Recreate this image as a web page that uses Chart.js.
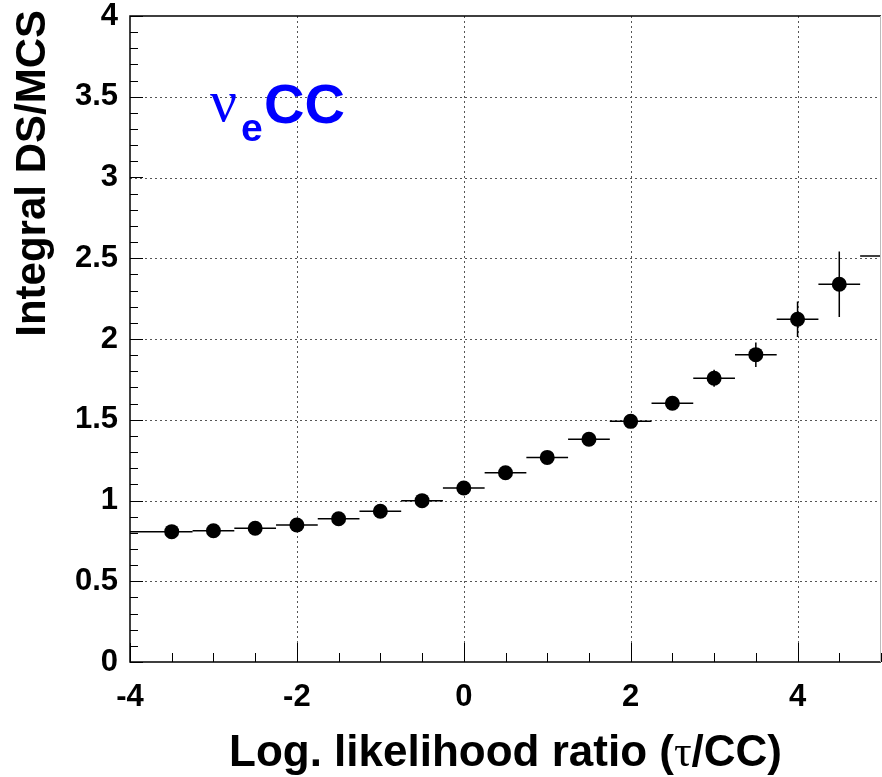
<!DOCTYPE html>
<html>
<head>
<meta charset="utf-8">
<script src="https://cdn.jsdelivr.net/npm/chart.js@4/dist/chart.umd.min.js"></script>
<style>
  html, body { margin: 0; padding: 0; background: #fff; }
  #wrap { width: 882px; height: 777px; position: relative; }
</style>
</head>
<body>
<div id="wrap"><canvas id="c" width="882" height="777"></canvas></div>
<script>
// ---- data ----
const X_VALUES   = [-3.5, -3.0, -2.5, -2.0, -1.5, -1.0, -0.5, 0.0, 0.5, 1.0, 1.5, 2.0, 2.5, 3.0, 3.5, 4.0, 4.5, 5.0];
const Y_VALUES   = [0.807, 0.813, 0.828, 0.848, 0.887, 0.933, 0.999, 1.077, 1.172, 1.267, 1.379, 1.490, 1.602, 1.757, 1.903, 2.122, 2.339, 2.514];
const X_ERR_LOW  = [0.50, 0.25, 0.25, 0.25, 0.25, 0.25, 0.25, 0.25, 0.25, 0.25, 0.25, 0.25, 0.25, 0.25, 0.25, 0.25, 0.25, 0.25];
const X_ERR_HIGH = [0.25, 0.25, 0.25, 0.25, 0.25, 0.25, 0.25, 0.25, 0.25, 0.25, 0.25, 0.25, 0.25, 0.25, 0.25, 0.25, 0.25, 0.25];
const Y_ERR      = [0.010, 0.010, 0.010, 0.012, 0.013, 0.015, 0.017, 0.020, 0.020, 0.022, 0.025, 0.030, 0.035, 0.052, 0.076, 0.110, 0.203, 0.000];
const X_TICKS = [-4, -2, 0, 2, 4];
const X_TICK_LABELS = ["-4", "-2", "0", "2", "4"];
const Y_TICKS = [0, 0.5, 1, 1.5, 2, 2.5, 3, 3.5, 4];
const Y_TICK_LABELS = ["0", "0.5", "1", "1.5", "2", "2.5", "3", "3.5", "4"];
const X_MINOR_STEP = 0.5;
const Y_MINOR_STEP = 0.1;
const X_MIN = -4, X_MAX = 5, Y_MIN = 0, Y_MAX = 4;
const X_TITLE_PARTS = ["Log. likelihood ratio (", "\u03C4", "/CC)"];
const Y_TITLE = "Integral DS/MCS";
const LABEL_NU = "\u03BD", LABEL_SUB = "e", LABEL_MAIN = "CC";

const SANS = '"Liberation Sans", Arial, Helvetica, sans-serif';
const SERIF = '"Liberation Serif", "Times New Roman", "DejaVu Serif", serif';

const points = X_VALUES.map((x, i) => ({ x: x, y: Y_VALUES[i] }));

function labelFor(ticks, labels, v) {
  const i = ticks.findIndex(t => Math.abs(t - v) < 1e-9);
  return i >= 0 ? labels[i] : '';
}
function zeroPad(s) { s.paddingTop = 0; s.paddingBottom = 0; s.paddingLeft = 0; s.paddingRight = 0; }

const decorPlugin = {
  id: 'decor',
  beforeDatasetsDraw(chart) {
    const ctx = chart.ctx, a = chart.chartArea;
    const xs = chart.scales.x, ys = chart.scales.y;
    ctx.save();
    ctx.strokeStyle = '#555';
    ctx.lineWidth = 1;
    ctx.setLineDash([2, 3]);
    X_TICKS.forEach(v => {
      if (v <= X_MIN || v >= X_MAX) return;
      const px = Math.round(xs.getPixelForValue(v)) + 0.5;
      ctx.beginPath(); ctx.moveTo(px, a.top); ctx.lineTo(px, a.bottom); ctx.stroke();
    });
    Y_TICKS.forEach(v => {
      if (v <= Y_MIN || v >= Y_MAX) return;
      const py = Math.round(ys.getPixelForValue(v)) + 0.5;
      ctx.beginPath(); ctx.moveTo(a.left, py); ctx.lineTo(a.right, py); ctx.stroke();
    });
    ctx.setLineDash([]);
    ctx.beginPath();
    ctx.rect(a.left, a.top, a.right - a.left, a.bottom - a.top);
    ctx.clip();
    ctx.strokeStyle = '#000';
    ctx.lineWidth = 1.5;
    X_VALUES.forEach((x, i) => {
      const y = Y_VALUES[i];
      const px = xs.getPixelForValue(x), py = ys.getPixelForValue(y);
      ctx.beginPath();
      ctx.moveTo(xs.getPixelForValue(x - X_ERR_LOW[i]), py);
      ctx.lineTo(xs.getPixelForValue(x + X_ERR_HIGH[i]), py);
      if (Y_ERR[i] > 0) {
        ctx.moveTo(px, ys.getPixelForValue(y - Y_ERR[i]));
        ctx.lineTo(px, ys.getPixelForValue(y + Y_ERR[i]));
      }
      ctx.stroke();
    });
    ctx.restore();
  },
  afterDatasetsDraw(chart) {
    const ctx = chart.ctx, a = chart.chartArea;
    const xs = chart.scales.x, ys = chart.scales.y;
    ctx.save();
    ctx.strokeStyle = '#000';
    ctx.lineWidth = 1.5;
    ctx.beginPath();
    ctx.moveTo(a.right, a.top); ctx.lineTo(a.left, a.top); ctx.lineTo(a.left, a.bottom); ctx.lineTo(a.right, a.bottom);
    ctx.stroke();
    ctx.strokeStyle = '#bbb';
    ctx.lineWidth = 1;
    ctx.beginPath(); ctx.moveTo(a.right - 0.5, a.top); ctx.lineTo(a.right - 0.5, a.bottom); ctx.stroke();
    ctx.strokeStyle = '#000';
    ctx.lineWidth = 1;
    const eps = 1e-6;
    for (let v = X_MIN; v <= X_MAX + eps; v += X_MINOR_STEP) {
      const isMajor = X_TICKS.some(t => Math.abs(t - v) < eps);
      const px = Math.round(xs.getPixelForValue(v)) + 0.5;
      const len = isMajor ? 19 : 9;
      ctx.beginPath(); ctx.moveTo(px, a.bottom); ctx.lineTo(px, a.bottom - len); ctx.stroke();
    }
    for (let v = Y_MIN; v <= Y_MAX + eps; v += Y_MINOR_STEP) {
      const isMajor = Y_TICKS.some(t => Math.abs(t - v) < eps);
      const py = Math.round(ys.getPixelForValue(v)) + 0.5;
      const len = isMajor ? 13 : 8;
      ctx.beginPath(); ctx.moveTo(a.left, py); ctx.lineTo(a.left + len, py); ctx.stroke();
    }
    ctx.restore();
  },
  afterDraw(chart) {
    const ctx = chart.ctx;
    ctx.save();
    ctx.fillStyle = '#000';
    const fB = 'bold 44px ' + SANS, fS = '44px ' + SERIF;
    ctx.font = fB; const w0 = ctx.measureText(X_TITLE_PARTS[0]).width;
    const w2 = ctx.measureText(X_TITLE_PARTS[2]).width;
    ctx.font = fS; const w1 = ctx.measureText(X_TITLE_PARTS[1]).width;
    let x = 782 - (w0 + w1 + w2);
    const base = 766;
    ctx.textBaseline = 'alphabetic'; ctx.textAlign = 'left';
    ctx.font = fB; ctx.fillText(X_TITLE_PARTS[0], x, base); x += w0;
    ctx.font = fS; ctx.fillText(X_TITLE_PARTS[1], x, base); x += w1;
    ctx.font = fB; ctx.fillText(X_TITLE_PARTS[2], x, base);
    ctx.save();
    ctx.translate(45, 10);
    ctx.rotate(-Math.PI / 2);
    ctx.font = 'bold 42px ' + SANS;
    ctx.textAlign = 'right';
    ctx.fillText(Y_TITLE, 0, 0);
    ctx.restore();
    ctx.fillStyle = '#0000ff';
    ctx.textAlign = 'left';
    ctx.font = '60px ' + SERIF;
    ctx.fillText(LABEL_NU, 210, 121);
    ctx.font = 'bold 39px ' + SANS;
    ctx.fillText(LABEL_SUB, 241, 141);
    ctx.font = 'bold 56px ' + SANS;
    ctx.fillText(LABEL_MAIN, 264, 123);
    ctx.restore();
  }
};

new Chart(document.getElementById('c'), {
  type: 'scatter',
  data: {
    datasets: [{
      data: points,
      backgroundColor: '#000',
      borderColor: '#000',
      pointRadius: c => (c.raw && c.raw.x >= X_MAX ? 0 : 7.5),
      pointHoverRadius: 7.5,
      pointBorderWidth: 0
    }]
  },
  options: {
    responsive: false,
    animation: false,
    events: [],
    layout: { autoPadding: false, padding: { top: 16, right: 1, left: 0, bottom: 0 } },
    plugins: { legend: { display: false }, tooltip: { enabled: false } },
    scales: {
      x: {
        type: 'linear', min: X_MIN, max: X_MAX,
        afterBuildTicks: s => { s.ticks = X_TICKS.map(v => ({ value: v })); },
        afterFit: s => { s.height = 115; zeroPad(s); },
        grid: { display: false, drawTicks: false },
        border: { display: false },
        ticks: {
          padding: 17, color: '#000', font: { family: SANS, size: 31, weight: 'bold' }, maxRotation: 0, autoSkip: false,
          callback: v => labelFor(X_TICKS, X_TICK_LABELS, v)
        }
      },
      y: {
        type: 'linear', min: Y_MIN, max: Y_MAX,
        afterBuildTicks: s => { s.ticks = Y_TICKS.map(v => ({ value: v })); },
        afterFit: s => { s.width = 130; zeroPad(s); },
        grid: { display: false, drawTicks: false },
        border: { display: false },
        ticks: {
          padding: 12, color: '#000', font: { family: SANS, size: 31, weight: 'bold' }, autoSkip: false,
          callback: v => labelFor(Y_TICKS, Y_TICK_LABELS, v)
        }
      }
    }
  },
  plugins: [decorPlugin]
});
</script>
</body>
</html>
